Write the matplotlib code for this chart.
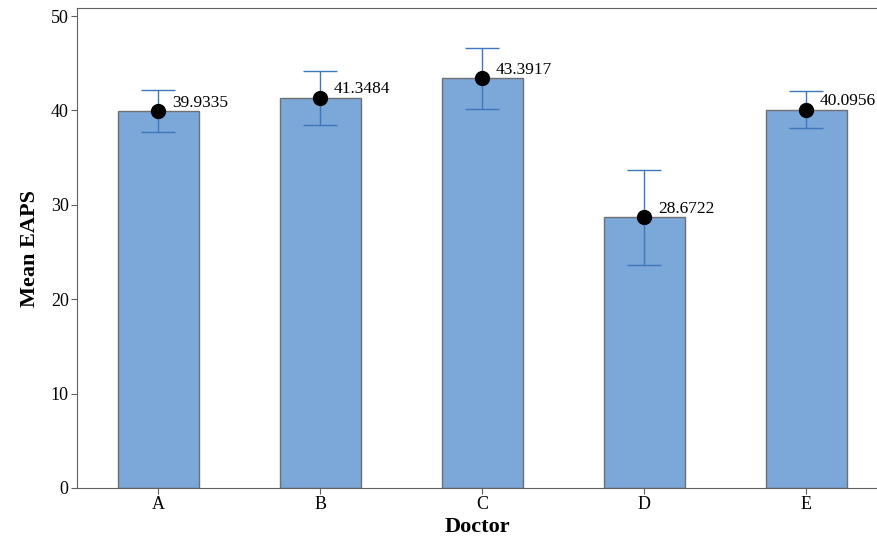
import numpy as np
import matplotlib.pyplot as plt

plt.rcParams['font.family'] = ['Liberation Serif', 'DejaVu Serif']

doctors = ['A', 'B', 'C', 'D', 'E']
means = [39.9335, 41.3484, 43.3917, 28.6722, 40.0956]
err = [2.2, 2.85, 3.2, 5.0, 2.0]

fig = plt.figure(figsize=(8.78, 5.38), dpi=100)
ax = fig.add_axes([0.0877, 0.093, 0.9123, 0.892])

x = np.arange(len(doctors))
ax.bar(x, means, width=0.5, color='#7ba7d9', edgecolor='#707070', linewidth=1, zorder=2)
ax.errorbar(x, means, yerr=err, fmt='none', ecolor='#3f78ba', elinewidth=1,
            capsize=12, capthick=1, zorder=3)
ax.plot(x, means, 'o', color='black', markersize=10, zorder=4)
for xi, m in zip(x, means):
    ax.annotate(f'{m:.4f}', (xi, m), xytext=(10, 6), textcoords='offset points',
                fontsize=12.5, va='center', ha='left', zorder=5)

ax.set_xlim(-0.5, 4.444)
ax.set_ylim(0, 50.85)
ax.set_yticks([0, 10, 20, 30, 40, 50])
ax.set_xticks(x)
ax.set_xticklabels(doctors)
ax.tick_params(axis='both', labelsize=13, color='#606060', length=4, pad=2)
ax.spines['right'].set_visible(False)
for s in ['top', 'left', 'bottom']:
    ax.spines[s].set_color('#606060')
ax.set_xlabel('Doctor', fontsize=16, fontweight='bold', labelpad=3)
ax.set_ylabel('Mean EAPS', fontsize=16, fontweight='bold', labelpad=8)

fig.savefig('out.png', dpi=100)
